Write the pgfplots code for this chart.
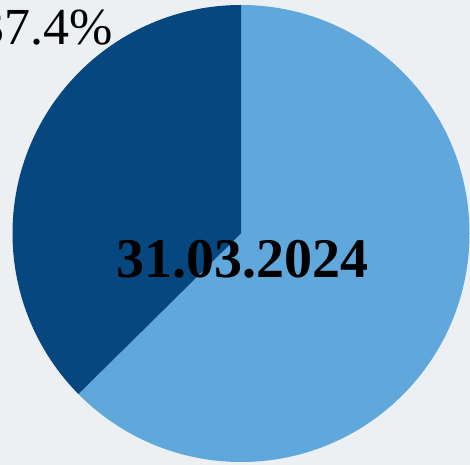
\documentclass[border=0pt]{standalone}
\usepackage{fontspec}
\setmainfont{Liberation Serif}
\usepackage{pgfplots}
\pgfplotsset{compat=1.18}

\definecolor{bgc}{RGB}{236,240,243}
\definecolor{darkb}{RGB}{6,71,128}
\definecolor{lightb}{RGB}{96,168,220}

% slice shares in percent
\def\valA{37.4}
\def\valB{62.6}

\begin{document}
\begin{tikzpicture}
\useasboundingbox (0,0) rectangle (470bp,465bp);
\fill[bgc] (0,0) rectangle (470bp,465bp);
\begin{axis}[
    at={(0,0)}, anchor=south west,
    scale only axis,
    width=470bp, height=465bp,
    xmin=0, xmax=470, ymin=0, ymax=465,
    axis lines=none, ticks=none,
    clip=true,
]
\pgfmathsetmacro{\angA}{90+3.6*\valA}
\fill[lightb] (axis cs:241,231.5) -- ++(0,228.5bp)
    arc[start angle=90, end angle={\angA-360}, radius=228.5bp] -- cycle;
\fill[darkb] (axis cs:241,231.5) -- ++(0,228.5bp)
    arc[start angle=90, end angle=\angA, radius=228.5bp] -- cycle;
\node[anchor=base east, inner sep=0pt, font=\fontsize{52bp}{56bp}\selectfont]
    at (axis cs:113,420) {\valA\%};
\node[inner sep=0pt, font=\fontsize{56bp}{60bp}\selectfont\bfseries]
    at (axis cs:243,206) {31.03.2024};
\end{axis}
\end{tikzpicture}
\end{document}
